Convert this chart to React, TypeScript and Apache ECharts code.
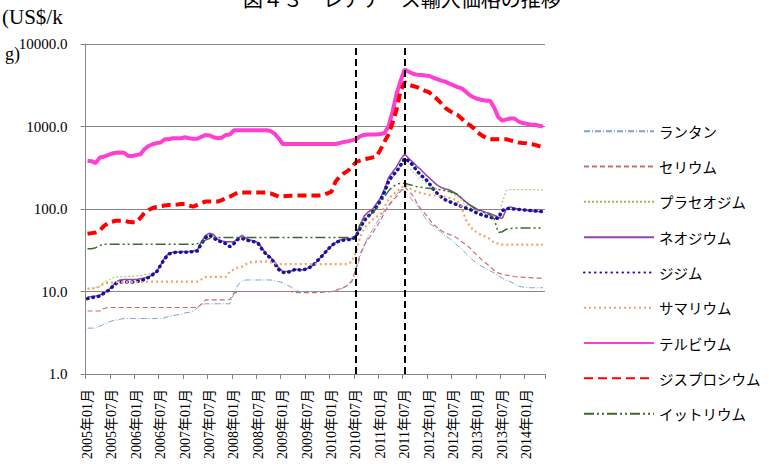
import React, { useEffect, useRef } from "react";
import * as echarts from "echarts";

// Categories: monthly, 2005年01月 .. 2014年05月 (113 months)
const START_YEAR = 2005;
const MONTH_COUNT = 113;
const categories: string[] = [];
for (let i = 0; i < MONTH_COUNT; i++) {
  const y = START_YEAR + Math.floor(i / 12);
  const m = (i % 12) + 1;
  categories.push(`${y}年${m < 10 ? "0" + m : m}月`);
}

const markMonths = ["2010年07月", "2011年07月"];

const seriesNames = [
  "ランタン",
  "セリウム",
  "プラセオジム",
  "ネオジウム",
  "ジジム",
  "サマリウム",
  "テルビウム",
  "ジスプロシウム",
  "イットリウム",
];

const lanthanum = [
  3.6, 3.6, 3.6, 3.8, 4.0, 4.2, 4.4, 4.5, 4.6, 4.7, 4.7, 4.7,
  4.7, 4.7, 4.7, 4.7, 4.7, 4.7, 4.7, 4.8, 5.0, 5.1, 5.2, 5.3,
  5.5, 5.6, 5.8, 6.3, 6.9, 7.1, 7.1, 7.1, 7.1, 7.1, 7.1, 7.1,
  9.5, 12, 13.5, 13.8, 13.8, 13.8, 13.8, 13.8, 13.8, 13.8, 13.5, 13.2,
  12.8, 12, 11.4, 10.5, 10, 10, 10, 10, 10, 10, 10, 10,
  10, 10.2, 10.5, 11.2, 12, 13, 17, 26, 36, 46, 55, 67,
  80, 95, 112, 130, 150, 175, 168, 145, 125, 112, 95, 78,
  68, 62, 57, 52, 47, 44, 40, 36, 33, 29, 26, 23.5,
  21.5, 20, 19, 17.8, 16.8, 15.5, 14.5, 13.6, 13.2, 12.3, 11.6, 11.3,
  11.2, 11.1, 11.1, 11.1, 11.1,
];

const cerium = [
  5.8, 5.8, 5.8, 5.8, 6.2, 6.4, 6.4, 6.4, 6.4, 6.4, 6.4, 6.4,
  6.4, 6.4, 6.4, 6.4, 6.4, 6.4, 6.4, 6.4, 6.4, 6.4, 6.4, 6.4,
  6.4, 6.4, 6.4, 6.4, 7.0, 7.9, 7.9, 7.9, 7.9, 7.9, 7.9, 8.0,
  9.5, 10, 10, 10, 10, 10, 10, 10, 10, 10, 10, 10,
  10, 10, 10, 9.7, 9.7, 9.7, 9.7, 9.7, 9.7, 9.7, 9.8, 9.9,
  10, 10.3, 10.8, 11.2, 12, 13.5, 19, 28, 36, 43, 50, 60,
  72, 90, 108, 125, 141, 165, 185, 165, 145, 118, 100, 88,
  76, 65, 60, 55, 51, 49, 47, 44, 40, 37, 34, 30,
  27, 24, 22, 20, 18, 16.8, 16.2, 15.8, 15.5, 15.2, 15, 14.9,
  14.8, 14.7, 14.6, 14.5, 14.4,
];

const praseodymium = [
  11, 11, 11.2, 11.5, 13, 13.5, 14.5, 15, 15, 15.1, 15.2, 15.3,
  15.4, 15.6, 16, 16.3, 16.8, 18, 21, 25.5, 28.5, 29.5, 30, 30,
  30, 30, 30.5, 31, 39, 46, 49, 47, 42, 40, 40, 40,
  40, 43, 46, 43, 41, 40, 38, 32, 28, 25.5, 22.5, 19,
  17.2, 17.2, 17.5, 18.4, 18.2, 18.1, 18.8, 19.8, 21.5, 24.5, 27.5, 31,
  35, 38, 41, 42, 42, 42, 45, 55, 68, 78, 88, 100,
  125, 160, 200, 240, 270, 330, 370, 320, 280, 250, 230, 210,
  195, 185, 175, 170, 165, 160, 150, 140, 125, 112, 105, 100,
  95, 90, 87, 84, 80, 85, 120, 168, 172, 172, 172, 172,
  172, 171, 171, 170, 170,
];

const neodymium = [
  8.6, 8.7, 8.8, 9.0, 9.6, 10.3, 11.5, 13, 13.8, 14, 14, 14,
  14, 14.3, 14.6, 15, 16, 17.5, 21, 26, 29, 30, 30, 30.5,
  30.5, 30.5, 31, 32, 40, 48, 51, 49, 43, 41, 40, 40,
  40, 44, 48, 44, 42, 41, 39, 33, 28.5, 26, 23, 19.5,
  17.5, 17.5, 17.6, 18.6, 18.4, 18.3, 19, 20, 22, 25, 28, 32,
  36, 39, 42, 43, 43.5, 43.5, 48, 63, 82, 92, 98, 115,
  135, 175, 240, 280, 326, 400, 465, 410, 370, 330, 300, 265,
  240, 215, 195, 182, 175, 170, 160, 148, 135, 122, 112, 105,
  98, 95, 91, 88, 84, 79, 77, 100, 106, 102, 100, 98,
  96, 95, 94, 93, 92,
];

const didymium = [
  8.2, 8.4, 8.6, 8.8, 9.5, 10.2, 11.3, 12.5, 13, 13, 13, 13,
  13.2, 13.4, 14, 14.8, 16, 17.3, 21, 25, 28.5, 29.5, 30, 30,
  30, 30, 30.5, 31, 38, 45, 48, 45, 41, 40, 38, 35,
  38, 43, 44, 42, 41, 40, 38, 32, 28, 25.5, 22, 18.5,
  17, 17, 17.5, 18.5, 18.3, 18.2, 19, 20, 22, 25, 28, 32,
  36, 39, 41, 42, 42.5, 43, 46, 58, 72, 82, 90, 105,
  125, 160, 215, 255, 285, 340, 410, 380, 340, 290, 255, 235,
  205, 175, 155, 140, 129, 123, 117, 112, 107, 103, 99, 94,
  88, 85, 82, 79, 78, 77, 95, 102, 101, 100, 99, 98,
  97, 96, 95, 94, 93,
];

const samarium = [
  10.8, 10.8, 10.9, 11.5, 12.5, 12.7, 12.8, 13, 13, 13, 13, 13,
  13, 13, 13, 13.2, 13.2, 13.2, 13.2, 13.2, 13.2, 13.2, 13.2, 13.2,
  13.2, 13.2, 13.2, 13.2, 14, 14.9, 15, 15, 15, 15, 15, 17.5,
  18.5, 19.5, 20, 21.5, 22.5, 23, 23, 23, 23, 22.5, 22, 21.5,
  21.5, 21.5, 21.5, 21.5, 21.5, 21.5, 21.5, 21.5, 21.5, 21.5, 21.5, 21.5,
  21.5, 21.5, 21.5, 21.5, 21.5, 23, 30, 45, 58, 66, 74, 80,
  85, 105, 130, 150, 162, 178, 195, 180, 170, 162, 156, 152,
  148, 146, 144, 142, 140, 136, 132, 125, 105, 75, 62, 55,
  51, 48, 46, 43, 39, 38, 37, 37, 37, 37, 37, 37,
  37, 37, 37, 37, 37,
];

const terbium = [
  385, 380, 360, 420, 430, 450, 470, 480, 485, 480, 440, 440,
  450, 460, 530, 580, 610, 630, 640, 700, 700, 720, 720, 720,
  740, 720, 710, 710, 750, 790, 780, 740, 720, 730, 790, 800,
  900, 900, 900, 900, 900, 900, 900, 900, 900, 880, 820, 720,
  614, 614, 614, 614, 614, 614, 614, 614, 614, 614, 614, 614,
  614, 614, 630, 650, 660, 680, 700, 760, 790, 800, 800, 800,
  811, 830, 1000, 1500, 2500, 3600, 4900, 4600, 4350, 4250, 4200, 4150,
  4100, 3900, 3750, 3600, 3500, 3300, 3150, 3000, 2900, 2650, 2400, 2250,
  2150, 2100, 2050, 2050, 1700, 1300, 1175, 1220, 1250, 1250, 1150, 1100,
  1080, 1050, 1050, 1020, 1000,
];

const dysprosium = [
  50, 51, 52, 55, 62, 67, 70, 72, 72, 72, 70, 69,
  69, 78, 90, 97, 103, 106, 108, 110, 112, 112, 113, 115,
  115, 110, 107, 112, 118, 123, 123, 123, 123, 128, 135, 141,
  150, 158, 158, 158, 158, 158, 158, 158, 158, 155, 148, 141,
  142, 144, 145, 146, 146, 146, 146, 146, 146, 146, 148, 155,
  162, 215, 246, 270, 290, 320, 370, 385, 400, 410, 420, 430,
  520, 650, 800, 1100, 1600, 2700, 3450, 3200, 3100, 3000, 2850, 2700,
  2600, 2350, 2150, 1900, 1680, 1550, 1450, 1380, 1250, 1120, 1040, 950,
  840, 780, 730, 700, 700, 700, 700, 700, 680, 660, 640, 630,
  625, 610, 600, 580, 565,
];

const yttrium = [
  33, 33, 34, 36, 37.5, 37.5, 37.5, 37.5, 37.5, 37.5, 37.5, 37.5,
  37.5, 37.5, 37.5, 37.5, 37.5, 37.5, 37.5, 37.5, 37.5, 37.5, 37.5, 37.5,
  37.5, 37.5, 37.5, 38, 40, 42, 44, 45, 45, 45, 45, 45,
  45, 45, 45, 45, 45, 45, 45, 45, 45, 45, 45, 45,
  45, 45, 45, 45, 45, 45, 45, 45, 45, 45, 45, 45,
  45, 45, 45, 45, 45, 45, 46, 65, 75, 82, 90, 100,
  118, 140, 165, 185, 200, 205, 205, 198, 192, 186, 183, 180,
  178, 176, 173, 170, 167, 163, 158, 150, 135, 120, 112, 103,
  97, 93, 89, 85, 76, 52, 53, 57, 58, 59, 59, 59,
  59, 59, 59, 59, 59,
];

const yTickValues = [1, 10, 100, 1000, 10000];

const SERIF = "'Liberation Serif', 'Noto Sans CJK JP', serif";
const JP = "'Noto Sans CJK JP', sans-serif";

export default function App() {
  const ref = useRef<HTMLDivElement>(null);

  useEffect(() => {
    if (!ref.current) return;
    const chart = echarts.init(ref.current, undefined, { renderer: "svg" });

    const styles: any[] = [
      { color: "#7aa3d6", width: 1, type: [6, 2, 1, 2] },
      { color: "#c8706c", width: 1.2, type: [5, 3] },
      { color: "#9bbb59", width: 1, type: [2, 2] },
      { color: "#9444aa", width: 1.5, type: "solid" },
      { color: "#1414a0", width: 3.5, type: [0.5, 5], cap: "round" },
      { color: "#f2a468", width: 2.2, type: [2, 3] },
      { color: "#ff3fd2", width: 4, type: "solid" },
      { color: "#ff0000", width: 4, type: [9, 5] },
      { color: "#3f6a2f", width: 1.5, type: [10, 3, 2, 3, 2, 3] },
    ];
    const values = [
      lanthanum,
      cerium,
      praseodymium,
      neodymium,
      didymium,
      samarium,
      terbium,
      dysprosium,
      yttrium,
    ];

    const series: any[] = seriesNames.map((name, i) => ({
      name,
      type: "line",
      data: values[i],
      symbol: "none",
      showSymbol: false,
      smooth: false,
      color: styles[i].color,
      lineStyle: styles[i],
      z: 2 + i,
    }));

    series[0].markLine = {
      silent: true,
      symbol: ["none", "none"],
      label: { show: false },
      lineStyle: { color: "#000", type: [7, 4], width: 2 },
      data: markMonths.map((m) => ({ xAxis: m })),
      z: 20,
    };

    chart.setOption({
      animation: false,
      backgroundColor: "#fff",
      grid: { left: 85.5, right: 224, top: 44, bottom: 90, containLabel: false },
      legend: {
        orient: "vertical",
        left: 578,
        top: 119,
        itemWidth: 70,
        itemHeight: 14,
        itemGap: 20.8,
        data: seriesNames,
        itemStyle: { opacity: 0 },
        textStyle: { fontSize: 14.5, color: "#000", fontFamily: JP },
      },
      xAxis: {
        type: "category",
        data: categories,
        boundaryGap: true,
        axisLine: { lineStyle: { color: "#868686", width: 1 } },
        axisTick: {
          show: true,
          interval: 5,
          length: 5,
          lineStyle: { color: "#868686" },
        },
        axisLabel: {
          interval: 5,
          rotate: 90,
          margin: 15,
          fontSize: 14,
          color: "#000",
          fontFamily: SERIF,
        },
        splitLine: { show: false },
      },
      yAxis: {
        type: "log",
        logBase: 10,
        min: yTickValues[0],
        max: yTickValues[yTickValues.length - 1],
        axisLine: { show: true, lineStyle: { color: "#868686" } },
        axisTick: { show: true, length: 5, lineStyle: { color: "#868686" } },
        axisLabel: {
          formatter: (v: number) => v.toFixed(1),
          fontSize: 15,
          color: "#000",
          fontFamily: SERIF,
          margin: 18,
        },
        splitLine: { show: true, lineStyle: { color: "#868686", width: 1.2 } },
      },
      graphic: [
        {
          type: "text",
          left: 403 - 160,
          top: -10,
          style: {
            text: "図４３　レアアース輸入価格の推移",
            font: `20px ${SERIF}`,
            fill: "#000",
          },
        },
        {
          type: "text",
          left: 2,
          top: 6,
          style: { text: "(US$/k", font: `21px ${SERIF}`, fill: "#000" },
        },
        {
          type: "text",
          left: 5,
          top: 45,
          style: { text: "g)", font: `18px ${SERIF}`, fill: "#000" },
        },
      ],
      series,
    });

    return () => chart.dispose();
  }, []);

  return (
    <div
      ref={ref}
      style={{ position: "fixed", left: 0, top: 0, width: 769, height: 464 }}
    />
  );
}
